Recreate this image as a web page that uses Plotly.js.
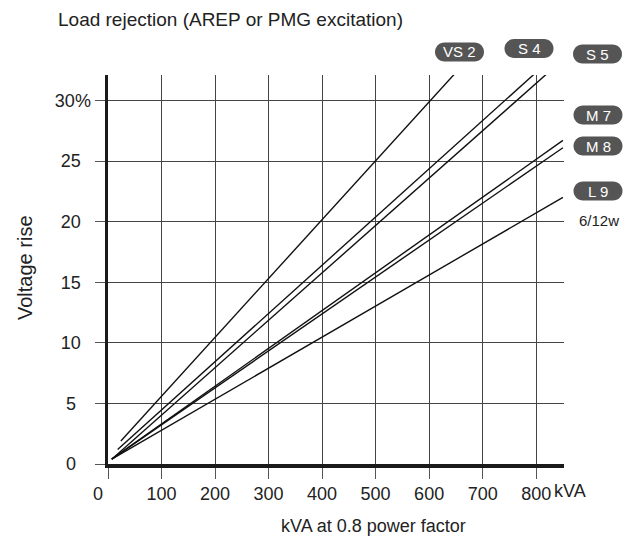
<!DOCTYPE html>
<html>
<head>
<meta charset="utf-8">
<script src="https://cdn.plot.ly/plotly-3.0.1.min.js"></script>
<style>html,body{margin:0;padding:0;background:#fff;}</style>
</head>
<body>
<div id="chart" style="width:635px;height:546px;"></div>
<script>
// ---- data ----
const seriesNames = ['VS 2', 'S 4', 'S 5', 'M 7', 'M 8', 'L 9'];
const xStart = [24, 18, 7, 7, 7, 7];        // kVA
const yStart = [1.9, 1.2, 0.4, 0.4, 0.4, 0.4]; // % voltage rise
const xEnd = [656, 802, 820, 850, 850, 850];
const yEnd = [32.6, 32.4, 32.2, 26.7, 26.1, 22.0];
const xTickVals = [0, 100, 200, 300, 400, 500, 600, 700, 800];
const xTickText = ['0\u00a0\u00a0\u00a0\u00a0', '100', '200', '300', '400', '500', '600', '700', '800'];
const yTickVals = [0, 5, 10, 15, 20, 25, 30];
const yTickText = ['0\u00a0\u00a0\u00a0', '5\u00a0\u00a0\u00a0', '10\u00a0\u00a0', '15\u00a0\u00a0', '20\u00a0\u00a0', '25\u00a0\u00a0', '30%'];
const subNote = '6/12w';
const xUnit = 'kVA';

// ---- layout geometry (pixels) ----
const W = 635, H = 546, ML = 108, MR = 71, MT = 75, MB = 82;
const PW = W - ML - MR, PH = H - MT - MB;
const px = X => (X - ML) / PW;
const py = Y => (H - MB - Y) / PH;

const pillCenters = [[459.5, 52], [529, 48.5], [597.5, 54], [598, 115], [598, 146], [598, 191]];
const pillW = 49, pillH = 19;

const traces = seriesNames.map((name, i) => ({
  type: 'scatter', mode: 'lines', name: name,
  x: [xStart[i], xEnd[i]], y: [yStart[i], yEnd[i]],
  line: {color: '#111', width: 1.4}, hoverinfo: 'skip'
}));

function pillPath(w, h) {
  const a = w / 2, b = h / 2, r = b, k = 0.5523 * r;
  return `M${-a + r},${-b} L${a - r},${-b} C${a - r + k},${-b} ${a},${-k} ${a},0 ` +
         `C${a},${k} ${a - r + k},${b} ${a - r},${b} L${-a + r},${b} ` +
         `C${-a + r - k},${b} ${-a},${k} ${-a},0 C${-a},${-k} ${-a + r - k},${-b} ${-a + r},${-b} Z`;
}

const shapes = pillCenters.map(c => ({
  type: 'path', xref: 'paper', yref: 'paper',
  xsizemode: 'pixel', ysizemode: 'pixel',
  xanchor: px(c[0]), yanchor: py(c[1]),
  path: pillPath(pillW, pillH),
  fillcolor: '#555555', line: {width: 0}, layer: 'above'
}));

const font = 'Liberation Sans, Arial, sans-serif';
const annotations = seriesNames.map((name, i) => ({
  xref: 'paper', yref: 'paper', x: px(pillCenters[i][0]), y: py(pillCenters[i][1]),
  text: name, showarrow: false, xanchor: 'center', yanchor: 'middle',
  font: {family: font, size: 15, color: '#ffffff'}
}));
annotations.push({
  xref: 'paper', yref: 'paper', x: px(599), y: py(220), text: subNote, showarrow: false,
  xanchor: 'center', yanchor: 'middle', font: {family: font, size: 15, color: '#222'}
});
annotations.push({
  xref: 'x', yref: 'paper', x: 800, xshift: 16, y: py(491), text: xUnit, showarrow: false,
  xanchor: 'left', yanchor: 'middle', font: {family: font, size: 18, color: '#222'}
});
annotations.push({
  xref: 'paper', yref: 'paper', x: px(373), y: py(526), text: 'kVA at 0.8 power factor',
  showarrow: false, xanchor: 'center', yanchor: 'middle', font: {family: font, size: 18, color: '#222'}
});
annotations.push({
  xref: 'paper', yref: 'paper', x: px(25), y: py(268), text: 'Voltage rise', textangle: -90,
  showarrow: false, xanchor: 'center', yanchor: 'middle', font: {family: font, size: 20, color: '#222'}
});

const layout = {
  width: W, height: H,
  margin: {l: ML, r: MR, t: MT, b: MB, pad: 0},
  paper_bgcolor: '#fff', plot_bgcolor: '#fff',
  showlegend: false,
  title: {text: 'Load rejection (AREP or PMG excitation)', x: 58 / W, xref: 'container', xanchor: 'left',
          y: 1 - 19 / H, yref: 'container', yanchor: 'middle',
          font: {family: font, size: 19, color: '#222'}},
  xaxis: {range: [0, 852], tickvals: xTickVals, ticktext: xTickText,
          showgrid: true, gridcolor: '#444', gridwidth: 1, zeroline: false,
          showline: true, linecolor: '#1a1a1a', linewidth: 3.5,
          ticks: 'outside', ticklen: 11, tickcolor: '#555', tickwidth: 1,
          tickfont: {family: font, size: 18, color: '#222'}, fixedrange: true},
  yaxis: {range: [0, 32.1], tickvals: yTickVals, ticktext: yTickText,
          showgrid: true, gridcolor: '#444', gridwidth: 1, zeroline: false,
          showline: true, linecolor: '#1a1a1a', linewidth: 3.5,
          ticks: 'outside', ticklen: 10, tickcolor: '#555', tickwidth: 1,
          tickfont: {family: font, size: 18, color: '#222'}, fixedrange: true},
  shapes: shapes,
  annotations: annotations
};

Plotly.newPlot('chart', traces, layout, {displayModeBar: false, staticPlot: true});
</script>
</body>
</html>
